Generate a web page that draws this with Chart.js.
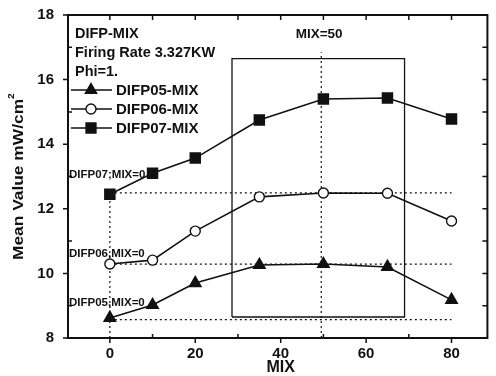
<!DOCTYPE html>
<html>
<head>
<meta charset="utf-8">
<script src="https://cdn.jsdelivr.net/npm/chart.js@4"></script>
<style>
  html, body { margin: 0; padding: 0; background: #fff; }
  #wrap { width: 496px; height: 376px; }
</style>
</head>
<body>
<div id="wrap"><canvas id="mix-chart" width="496" height="376"></canvas></div>
<script>
const mix = [0, 10, 20, 35, 50, 65, 80];
const difp05 = [8.62, 9.02, 9.70, 10.26, 10.29, 10.20, 9.18];
const difp06 = [10.29, 10.41, 11.31, 12.37, 12.49, 12.48, 11.62];
const difp07 = [12.45, 13.10, 13.57, 14.75, 15.40, 15.43, 14.78];
const seriesNames = ['DIFP05-MIX', 'DIFP06-MIX', 'DIFP07-MIX'];
const xTicks = [0, 10, 20, 30, 40, 50, 60, 70, 80];
const yTicks = [8, 9, 10, 11, 12, 13, 14, 15, 16, 17, 18];
// reference box around the MIX=50 region
const boxX = [28.6, 69];
const boxY = [8.65, 16.65];
const refLineTop = 16.85;

const ink = '#111';
const font = 'Liberation Sans, Arial, sans-serif';

const pts = (ys) => mix.map((x, i) => ({ x: x, y: ys[i] }));
const dotted = (data) => ({
  data: data, borderColor: ink, borderWidth: 1.2, borderDash: [2, 3],
  pointRadius: 0, fill: false, tension: 0
});

const datasets = [
  { label: seriesNames[0], data: pts(difp05), pointStyle: 'triangle', pointRadius: 6.5,
    pointBackgroundColor: ink, pointBorderColor: ink, borderColor: ink, borderWidth: 1.6 },
  { label: seriesNames[1], data: pts(difp06), pointStyle: 'circle', pointRadius: 5,
    pointBackgroundColor: '#fff', pointBorderColor: ink, pointBorderWidth: 1.4, borderColor: ink, borderWidth: 1.6 },
  { label: seriesNames[2], data: pts(difp07), pointStyle: 'rect', pointRadius: 7,
    pointBackgroundColor: ink, pointBorderColor: ink, borderColor: ink, borderWidth: 1.6 },
  // MIX=0 reference levels
  dotted([{ x: 0, y: difp06[4] }, { x: 80, y: difp06[4] }]),
  dotted([{ x: 0, y: difp06[0] }, { x: 80, y: difp06[0] }]),
  dotted([{ x: 0, y: 8.57 }, { x: 80, y: 8.57 }]),
  dotted([{ x: 0, y: 8 }, { x: 0, y: difp07[0] }]),
  dotted([{ x: 49.5, y: 8 }, { x: 49.5, y: refLineTop }]),
  { data: [{ x: boxX[0], y: boxY[0] }, { x: boxX[0], y: boxY[1] }, { x: boxX[1], y: boxY[1] },
           { x: boxX[1], y: boxY[0] }, { x: boxX[0], y: boxY[0] }],
    borderColor: ink, borderWidth: 1.3, pointRadius: 0, fill: false }
];

const annotations = {
  id: 'annotations',
  afterDatasetsDraw(chart) {
    const ctx = chart.ctx;
    const xs = chart.scales.x, ys = chart.scales.y;
    ctx.save();
    ctx.fillStyle = ink;
    ctx.textBaseline = 'middle';
    ctx.font = 'bold 14.5px ' + font;
    ctx.fillText('DIFP-MIX', 75, 34);
    ctx.fillText('Firing Rate 3.327KW', 75, 53);
    ctx.fillText('Phi=1.', 75, 72);
    // legend
    const rows = [90, 109, 128];
    chart.data.datasets.slice(0, 3).forEach((ds, i) => {
      const y = rows[i];
      ctx.strokeStyle = ink;
      ctx.lineWidth = 1.6;
      ctx.beginPath();
      ctx.moveTo(71, y); ctx.lineTo(112, y);
      ctx.stroke();
      ctx.fillStyle = ds.pointBackgroundColor;
      ctx.lineWidth = 1.4;
      Chart.helpers.drawPoint(ctx, {
        pointStyle: ds.pointStyle, radius: ds.pointRadius, borderWidth: 1.4
      }, 91, y);
      ctx.fillStyle = ink;
      ctx.font = 'bold 15px ' + font;
      ctx.fillText(ds.label, 116, y + 1);
    });
    ctx.font = 'bold 13.5px ' + font;
    ctx.textAlign = 'center';
    ctx.fillText('MIX=50', xs.getPixelForValue(49), 34);
    ctx.font = 'bold 16px ' + font;
    ctx.fillText('MIX', xs.getPixelForValue(40), 368);
    // y title, stretched to the reference length
    ctx.save();
    ctx.translate(19, 176);
    ctx.rotate(-Math.PI / 2);
    ctx.font = 'bold 15px ' + font;
    const main = 'Mean Value mW/cm';
    const w = ctx.measureText(main).width + 6;
    ctx.scale(168 / w, 1);
    ctx.textAlign = 'left';
    ctx.fillText(main, -w / 2, 0);
    ctx.font = 'bold 9px ' + font;
    ctx.fillText('2', -w / 2 + w - 6, -7);
    ctx.restore();
    ctx.textAlign = 'left';
    ctx.font = 'bold 11.5px ' + font;
    ctx.fillText('DIFP07;MIX=0', 69, ys.getPixelForValue(13.05));
    ctx.fillText('DIFP06,MIX=0', 69, ys.getPixelForValue(10.6));
    ctx.fillText('DIFP05,MIX=0', 69, ys.getPixelForValue(9.1));
    // ticks on all four sides
    ctx.strokeStyle = ink;
    ctx.lineWidth = 1.5;
    const a = chart.chartArea;
    xTicks.forEach(v => {
      const px = xs.getPixelForValue(v);
      const major = v % 20 === 0;
      ctx.beginPath();
      ctx.moveTo(px, a.bottom + (major ? 5 : 0)); ctx.lineTo(px, a.bottom - (major ? 0 : 4));
      ctx.moveTo(px, a.top); ctx.lineTo(px, a.top + 5);
      ctx.stroke();
    });
    yTicks.forEach(v => {
      const py = ys.getPixelForValue(v);
      const major = v % 2 === 0;
      ctx.beginPath();
      ctx.moveTo(a.left - (major ? 5 : 0), py); ctx.lineTo(a.left + (major ? 0 : 4), py);
      ctx.moveTo(a.right, py); ctx.lineTo(a.right - 5, py);
      ctx.stroke();
    });
    ctx.lineWidth = 2;
    ctx.strokeRect(a.left, a.top, a.right - a.left, a.bottom - a.top);
    ctx.restore();
  }
};

new Chart(document.getElementById('mix-chart'), {
  type: 'line',
  data: { datasets: datasets },
  options: {
    responsive: false,
    animation: false,
    layout: { padding: { top: 15, right: 6, left: 0, bottom: 0 } },
    plugins: { legend: { display: false }, tooltip: { enabled: false } },
    scales: {
      x: {
        type: 'linear', min: -9.8, max: 88.4,
        afterBuildTicks: (s) => { s.ticks = [0, 20, 40, 60, 80].map(v => ({ value: v })); },
        grid: { display: false, drawTicks: false, tickLength: 0 },
        border: { display: false },
        ticks: { color: ink, font: { family: font, size: 15, weight: 'bold' }, padding: 7, maxRotation: 0 },
        afterFit: (s) => { s.height = 38; s.paddingLeft = 0; s.paddingRight = 0; }
      },
      y: {
        min: 8, max: 18,
        afterBuildTicks: (s) => { s.ticks = [8, 10, 12, 14, 16, 18].map(v => ({ value: v })); },
        grid: { display: false, drawTicks: false, tickLength: 0 },
        border: { display: false },
        ticks: { color: ink, font: { family: font, size: 15, weight: 'bold' }, padding: 14 },
        afterFit: (s) => { s.width = 68; s.paddingTop = 0; s.paddingBottom = 0; }
      }
    }
  },
  plugins: [annotations]
});
</script>
</body>
</html>
